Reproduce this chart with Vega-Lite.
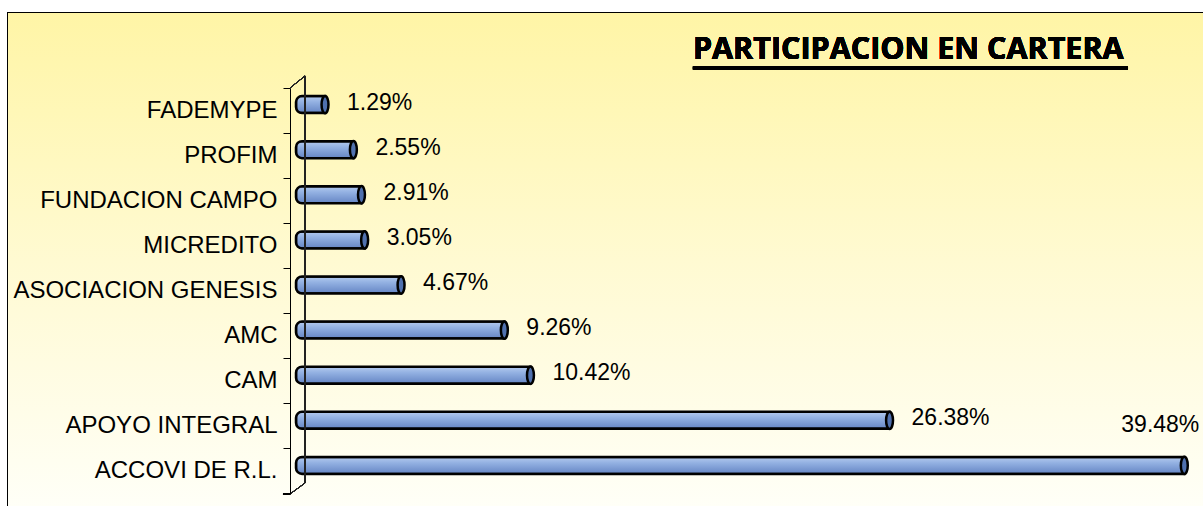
{
  "$schema": "https://vega.github.io/schema/vega-lite/v6.json",
  "width": 1200,
  "height": 500,
  "autosize": {"type": "none"},
  "padding": {"left": 8, "top": 13, "right": -5, "bottom": -7},
  "background": "white",
  "config": {
    "view": {"stroke": "black", "strokeWidth": 2}
  },
  "data": {
    "values": [
      {"entidad": "FADEMYPE", "participacion": 0.0129},
      {"entidad": "PROFIM", "participacion": 0.0255},
      {"entidad": "FUNDACION CAMPO", "participacion": 0.0291},
      {"entidad": "MICREDITO", "participacion": 0.0305},
      {"entidad": "ASOCIACION GENESIS", "participacion": 0.0467},
      {"entidad": "AMC", "participacion": 0.0926},
      {"entidad": "CAM", "participacion": 0.1042},
      {"entidad": "APOYO INTEGRAL", "participacion": 0.2638},
      {"entidad": "ACCOVI DE R.L.", "participacion": 0.3948}
    ]
  },
  "layer": [
    {
      "mark": {
        "type": "rect",
        "fill": {"gradient": "linear", "x1": 0, "y1": 0, "x2": 0, "y2": 1,
          "stops": [{"offset": 0, "color": "#FFF5A6"}, {"offset": 0.5, "color": "#FFFAD2"}, {"offset": 1, "color": "#FFFFF8"}]}
      },
      "encoding": {}
    },
    {
      "mark": {
        "type": "bar",
        "size": 17,
        "yOffset": -6,
        "stroke": "black",
        "strokeWidth": 2.5,
        "cornerRadiusTopLeft": 6,
        "cornerRadiusBottomLeft": 6,
        "fill": {"gradient": "linear", "x1": 0, "y1": 0, "x2": 0, "y2": 1,
          "stops": [{"offset": 0, "color": "#B4CAEE"}, {"offset": 0.35, "color": "#93B1E2"}, {"offset": 1, "color": "#6585C4"}]}
      },
      "encoding": {
        "y": {
          "field": "entidad",
          "type": "nominal",
          "sort": null,
          "scale": {"range": [75, 481], "paddingInner": 0, "paddingOuter": 0},
          "axis": {
            "orient": "left",
            "offset": -282,
            "zindex": 1,
            "title": null,
            "grid": false,
            "domainColor": "black",
            "domainWidth": 1,
            "tickColor": "black",
            "tickWidth": 1,
            "tickSize": 7,
            "bandPosition": 0,
            "labelPadding": 6,
            "labelFont": "Liberation Sans",
            "labelFontSize": 24,
            "labelColor": "black",
            "labelLimit": 400
          }
        },
        "x": {
          "field": "participacion",
          "type": "quantitative",
          "scale": {"domain": [0, 0.4], "range": [288, 1188], "nice": false, "zero": false},
          "axis": null
        }
      }
    },
    {
      "mark": {
        "type": "point",
        "shape": "M0,-1A0.4,1,0,1,1,0,1A0.4,1,0,1,1,0,-1Z",
        "size": 300,
        "filled": true,
        "fill": "#4F70AE",
        "stroke": "black",
        "strokeWidth": 2.5,
        "opacity": 1,
        "yOffset": -6
      },
      "encoding": {
        "y": {"field": "entidad", "type": "nominal", "sort": null},
        "x": {"field": "participacion", "type": "quantitative"}
      }
    },
    {
      "transform": [{"filter": "datum.participacion < 0.3"}],
      "mark": {"type": "text", "align": "left", "baseline": "middle", "dx": 22, "yOffset": -8, "font": "Liberation Sans", "fontSize": 23, "color": "black"},
      "encoding": {
        "y": {"field": "entidad", "type": "nominal", "sort": null},
        "x": {"field": "participacion", "type": "quantitative"},
        "text": {"field": "participacion", "type": "quantitative", "format": ".2%"}
      }
    },
    {
      "transform": [{"filter": "datum.participacion >= 0.3"}],
      "mark": {"type": "text", "align": "left", "baseline": "middle", "dx": -63, "yOffset": -46, "font": "Liberation Sans", "fontSize": 23, "color": "black"},
      "encoding": {
        "y": {"field": "entidad", "type": "nominal", "sort": null},
        "x": {"field": "participacion", "type": "quantitative"},
        "text": {"field": "participacion", "type": "quantitative", "format": ".2%"}
      }
    },
    {
      "mark": {"type": "text", "align": "left", "baseline": "alphabetic", "yOffset": -51.6, "font": "Open Sans", "fontSize": 30.5, "fontWeight": "bold", "color": "black"},
      "encoding": {
        "x": {"datum": 0.1764, "type": "quantitative"},
        "y": {"datum": "FADEMYPE", "type": "nominal"},
        "text": {"value": "PARTICIPACION EN CARTERA"}
      }
    },
    {
      "mark": {"type": "rule", "color": "black", "strokeWidth": 3, "yOffset": -42.6},
      "encoding": {
        "x": {"datum": 0.1764, "type": "quantitative"},
        "x2": {"datum": 0.36978},
        "y": {"datum": "FADEMYPE", "type": "nominal"}
      }
    },
    {
      "mark": {"type": "rule", "color": "#222222", "strokeWidth": 1, "yOffset": -34.6, "y2Offset": 11.6},
      "encoding": {
        "x": {"datum": 0.004, "type": "quantitative"},
        "y": {"datum": "FADEMYPE", "type": "nominal"},
        "y2": {"datum": "ACCOVI DE R.L."}
      }
    },
    {
      "mark": {"type": "rule", "color": "#222222", "strokeWidth": 1, "yOffset": -22.6, "y2Offset": -34.6},
      "encoding": {
        "x": {"datum": -0.00267, "type": "quantitative"},
        "x2": {"datum": 0.004},
        "y": {"datum": "FADEMYPE", "type": "nominal"},
        "y2": {"datum": "FADEMYPE"}
      }
    },
    {
      "mark": {"type": "rule", "color": "#222222", "strokeWidth": 1, "yOffset": 22.6, "y2Offset": 11.6},
      "encoding": {
        "x": {"datum": -0.00267, "type": "quantitative"},
        "x2": {"datum": 0.004},
        "y": {"datum": "ACCOVI DE R.L.", "type": "nominal"},
        "y2": {"datum": "ACCOVI DE R.L."}
      }
    },
    {
      "mark": {"type": "rule", "color": "black", "strokeWidth": 1, "yOffset": 22.6},
      "encoding": {
        "x": {"datum": -0.00578, "type": "quantitative"},
        "x2": {"datum": -0.00267},
        "y": {"datum": "ACCOVI DE R.L.", "type": "nominal"}
      }
    }
  ]
}
